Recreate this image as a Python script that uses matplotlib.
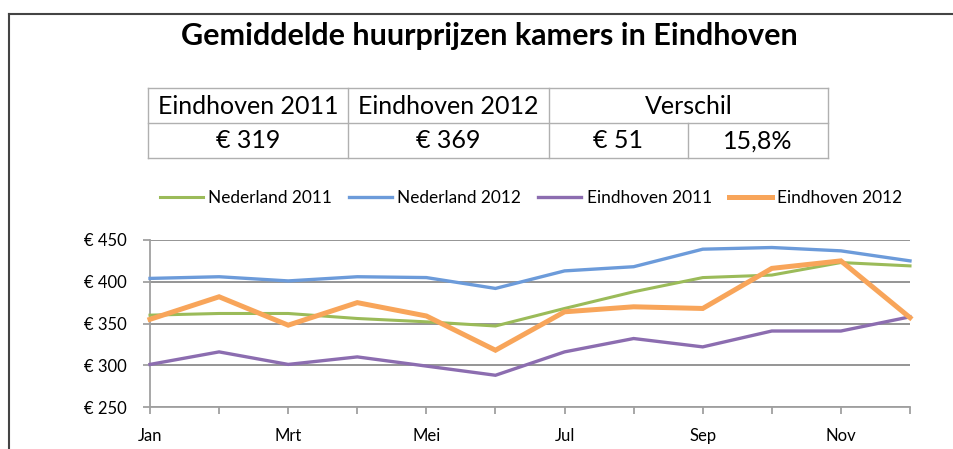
import numpy as np
import matplotlib
matplotlib.use('Agg')
from matplotlib import pyplot as plt
from matplotlib.lines import Line2D

plt.rcParams['font.family'] = ['Lato', 'DejaVu Sans']

months = ['Jan', 'Feb', 'Mrt', 'Apr', 'Mei', 'Jun',
          'Jul', 'Aug', 'Sep', 'Okt', 'Nov', 'Dec']
nl_2011 = [360, 362, 362, 356, 352, 347, 368, 388, 405, 408, 423, 419]
nl_2012 = [404, 406, 401, 406, 405, 392, 413, 418, 439, 441, 437, 425]
eh_2011 = [301, 316, 301, 310, 299, 288, 316, 332, 322, 341, 341, 358]
eh_2012 = [355, 382, 348, 375, 359, 318, 364, 370, 368, 416, 425, 357]

title = 'Gemiddelde huurprijzen kamers in Eindhoven'
table_head = ['Eindhoven 2011', 'Eindhoven 2012', 'Verschil']
table_vals = ['€ 319', '€ 369', '€ 51', '15,8%']

W, H = 954, 449
fig = plt.figure(figsize=(W / 100, H / 100), dpi=100)

def fx(px):
    return px / W

def fy(py):
    return 1 - py / H

# frame (top + left only, cropped screenshot)
fig.add_artist(Line2D([fx(9), fx(954)], [fy(14), fy(14)], color='#444444', lw=1.5))
fig.add_artist(Line2D([fx(9), fx(9)], [fy(14), fy(449)], color='#444444', lw=1.5))

fig.text(fx(489), fy(36), title, ha='center', va='center',
         fontsize=22, fontweight='bold', color='black')

# table
tc = '#b0b0b0'
xs = [148, 348, 549, 688, 828]
ys = [88, 123, 158]
for y in ys:
    fig.add_artist(Line2D([fx(xs[0]), fx(xs[-1])], [fy(y), fy(y)], color=tc, lw=1))
for x in [148, 348, 549, 828]:
    fig.add_artist(Line2D([fx(x), fx(x)], [fy(ys[0]), fy(ys[2])], color=tc, lw=1))
fig.add_artist(Line2D([fx(688), fx(688)], [fy(ys[1]), fy(ys[2])], color=tc, lw=1))

head_x = [(148 + 348) / 2, (348 + 549) / 2, (549 + 828) / 2]
for x, t in zip(head_x, table_head):
    fig.text(fx(x), fy(106), t, ha='center', va='center', fontsize=18)
val_x = [(148 + 348) / 2, (348 + 549) / 2, (549 + 688) / 2, (688 + 828) / 2]
for x, t in zip(val_x, table_vals):
    fig.text(fx(x), fy(141), t, ha='center', va='center', fontsize=18)

# chart
ax = fig.add_axes([fx(150), fy(407), fx(910) - fx(150), (407 - 240) / H])
x = np.arange(len(months))
series = [
    ('Nederland 2011', nl_2011, '#9bbb59', 2.2),
    ('Nederland 2012', nl_2012, '#6c9bda', 2.4),
    ('Eindhoven 2011', eh_2011, '#8c6db0', 2.4),
    ('Eindhoven 2012', eh_2012, '#f8a55a', 3.6),
]
for label, vals, col, lw in series:
    ax.plot(x, vals, color=col, lw=lw, label=label, clip_on=False,
            solid_joinstyle='miter', zorder=3)

ax.set_xlim(0, 11)
ax.set_ylim(250, 450)
ax.set_yticks([250, 300, 350, 400, 450])
ax.set_yticklabels(['€ %d' % v for v in [250, 300, 350, 400, 450]])
ax.set_xticks(x)
ax.set_xticklabels([m if i % 2 == 0 else '' for i, m in enumerate(months)])
ax.grid(axis='y', color='#8c8c8c', lw=1.3)
ax.set_axisbelow(True)
for s in ['top', 'right']:
    ax.spines[s].set_visible(False)
for s in ['left', 'bottom']:
    ax.spines[s].set_color('#a0a0a0')
    ax.spines[s].set_linewidth(1.3)
ax.tick_params(axis='both', colors='#a0a0a0', length=5, width=1.3,
               labelcolor='black', labelsize=12)
ax.tick_params(axis='y', pad=12)
ax.tick_params(axis='x', pad=10)

fig.legend(loc='center', bbox_to_anchor=(fx(531), fy(198)), ncol=4,
           frameon=False, fontsize=12.4, handlelength=2.5,
           handletextpad=0.3, columnspacing=1.0)

fig.savefig('out.png', dpi=100)
